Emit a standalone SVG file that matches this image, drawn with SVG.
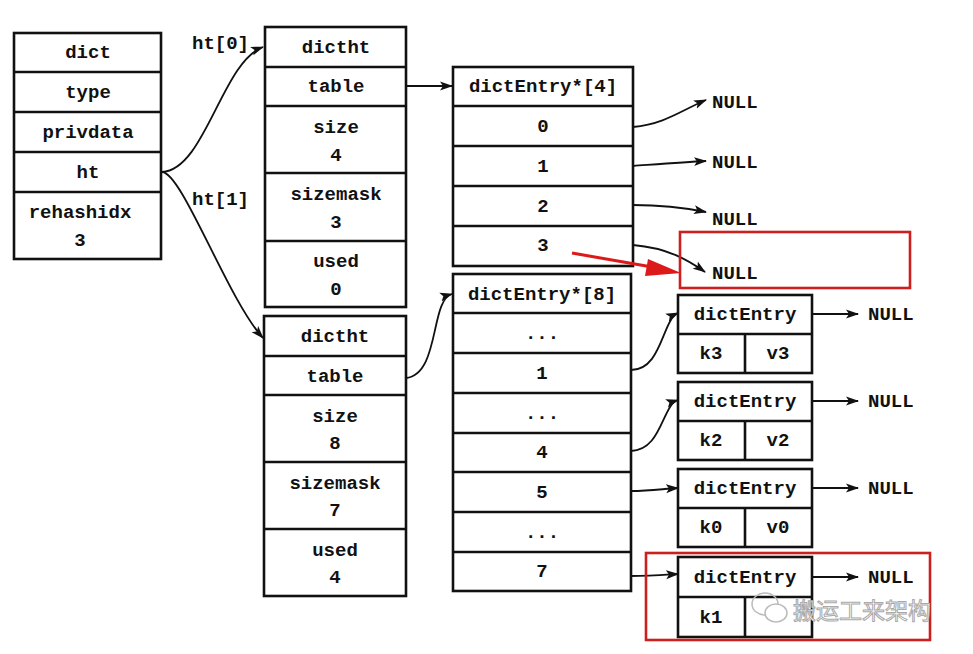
<svg xmlns="http://www.w3.org/2000/svg" width="973" height="654" viewBox="0 0 973 654">
<style>
.box{fill:#fff;stroke:#111;stroke-width:2.6}
.ln{stroke:#111;stroke-width:2.6;fill:none}
.t{font-family:"Liberation Mono","Courier New",monospace;font-weight:bold;font-size:19px;fill:#111;text-anchor:middle}
.tl{font-family:"Liberation Mono","Courier New",monospace;font-weight:bold;font-size:19px;fill:#111}
.c{fill:none;stroke:#111;stroke-width:1.8}
.red{fill:none;stroke:#cc2020;stroke-width:2.6}
.wm{font-family:"Noto Sans CJK SC",sans-serif;font-size:23px;fill:#fff;stroke:#aaa;stroke-width:1}
</style>
<defs>
<marker id="ar" markerUnits="userSpaceOnUse" markerWidth="14" markerHeight="10" refX="12" refY="5" orient="auto">
<path d="M0,0.5 L13,5 L0,9.5 L3,5 Z" fill="#111"/>
</marker>
</defs>
<rect width="973" height="654" fill="#fff"/>

<g id="dict">
<rect class="box" x="14" y="33" width="147" height="226"/>
<line class="ln" x1="14" y1="72" x2="161" y2="72"/>
<line class="ln" x1="14" y1="112" x2="161" y2="112"/>
<line class="ln" x1="14" y1="152" x2="161" y2="152"/>
<line class="ln" x1="14" y1="192" x2="161" y2="192"/>
<text class="t" x="88" y="58">dict</text>
<text class="t" x="88" y="98">type</text>
<text class="t" x="88" y="138">privdata</text>
<text class="t" x="88" y="178">ht</text>
<text class="t" x="80" y="218">rehashidx</text>
<text class="t" x="80" y="246">3</text>
</g>

<g id="dictht0">
<rect class="box" x="265" y="27" width="141" height="280"/>
<line class="ln" x1="265" y1="67" x2="406" y2="67"/>
<line class="ln" x1="265" y1="106" x2="406" y2="106"/>
<line class="ln" x1="265" y1="173" x2="406" y2="173"/>
<line class="ln" x1="265" y1="241" x2="406" y2="241"/>
<text class="t" x="336" y="53">dictht</text>
<text class="t" x="336" y="92">table</text>
<text class="t" x="336" y="133">size</text>
<text class="t" x="336" y="161">4</text>
<text class="t" x="336" y="200">sizemask</text>
<text class="t" x="336" y="228">3</text>
<text class="t" x="336" y="267">used</text>
<text class="t" x="336" y="295">0</text>
</g>

<g id="dictht1">
<rect class="box" x="264" y="316" width="142" height="280"/>
<line class="ln" x1="264" y1="356" x2="406" y2="356"/>
<line class="ln" x1="264" y1="395" x2="406" y2="395"/>
<line class="ln" x1="264" y1="462" x2="406" y2="462"/>
<line class="ln" x1="264" y1="529" x2="406" y2="529"/>
<text class="t" x="335" y="342">dictht</text>
<text class="t" x="335" y="382">table</text>
<text class="t" x="335" y="422">size</text>
<text class="t" x="335" y="449">8</text>
<text class="t" x="335" y="489">sizemask</text>
<text class="t" x="335" y="516">7</text>
<text class="t" x="335" y="556">used</text>
<text class="t" x="335" y="583">4</text>
</g>

<g id="table4">
<rect class="box" x="453" y="67" width="180" height="199"/>
<line class="ln" x1="453" y1="106" x2="633" y2="106"/>
<line class="ln" x1="453" y1="146" x2="633" y2="146"/>
<line class="ln" x1="453" y1="186" x2="633" y2="186"/>
<line class="ln" x1="453" y1="226" x2="633" y2="226"/>
<text class="t" x="543" y="92">dictEntry*[4]</text>
<text class="t" x="543" y="132">0</text>
<text class="t" x="543" y="172">1</text>
<text class="t" x="543" y="212">2</text>
<text class="t" x="543" y="251">3</text>
</g>

<g id="table8">
<rect class="box" x="453" y="274" width="178" height="317"/>
<line class="ln" x1="453" y1="313" x2="631" y2="313"/>
<line class="ln" x1="453" y1="353" x2="631" y2="353"/>
<line class="ln" x1="453" y1="393" x2="631" y2="393"/>
<line class="ln" x1="453" y1="433" x2="631" y2="433"/>
<line class="ln" x1="453" y1="472" x2="631" y2="472"/>
<line class="ln" x1="453" y1="512" x2="631" y2="512"/>
<line class="ln" x1="453" y1="552" x2="631" y2="552"/>
<text class="t" x="542" y="300">dictEntry*[8]</text>
<text class="t" x="542" y="339">...</text>
<text class="t" x="542" y="379">1</text>
<text class="t" x="542" y="419">...</text>
<text class="t" x="542" y="458">4</text>
<text class="t" x="542" y="498">5</text>
<text class="t" x="542" y="538">...</text>
<text class="t" x="542" y="577">7</text>
</g>

<g id="entry-k3">
<rect class="box" x="678" y="295" width="134" height="78"/>
<line class="ln" x1="678" y1="334" x2="812" y2="334"/>
<line class="ln" x1="745" y1="334" x2="745" y2="373"/>
<text class="t" x="745" y="320">dictEntry</text>
<text class="t" x="711" y="359">k3</text>
<text class="t" x="778" y="359">v3</text>
</g>
<g id="entry-k2">
<rect class="box" x="678" y="382" width="134" height="78"/>
<line class="ln" x1="678" y1="421" x2="812" y2="421"/>
<line class="ln" x1="745" y1="421" x2="745" y2="460"/>
<text class="t" x="745" y="407">dictEntry</text>
<text class="t" x="711" y="446">k2</text>
<text class="t" x="778" y="446">v2</text>
</g>
<g id="entry-k0">
<rect class="box" x="678" y="469" width="134" height="78"/>
<line class="ln" x1="678" y1="508" x2="812" y2="508"/>
<line class="ln" x1="745" y1="508" x2="745" y2="547"/>
<text class="t" x="745" y="494">dictEntry</text>
<text class="t" x="711" y="533">k0</text>
<text class="t" x="778" y="533">v0</text>
</g>
<g id="entry-k1">
<rect class="box" x="678" y="557" width="134" height="80"/>
<line class="ln" x1="678" y1="597" x2="812" y2="597"/>
<line class="ln" x1="745" y1="597" x2="745" y2="637"/>
<text class="t" x="745" y="583">dictEntry</text>
<text class="t" x="711" y="623">k1</text>
</g>

<g id="labels">
<text class="tl" x="192" y="49">ht[0]</text>
<text class="tl" x="192" y="205">ht[1]</text>
<text class="tl" x="712" y="108">NULL</text>
<text class="tl" x="712" y="168">NULL</text>
<text class="tl" x="712" y="225">NULL</text>
<text class="tl" x="712" y="279">NULL</text>
<text class="tl" x="868" y="320">NULL</text>
<text class="tl" x="868" y="407">NULL</text>
<text class="tl" x="868" y="494">NULL</text>
<text class="tl" x="868" y="583">NULL</text>
</g>

<g id="connectors">
<path class="c" marker-end="url(#ar)" d="M162,172 C205,170 222,62 263,47"/>
<path class="c" marker-end="url(#ar)" d="M162,172 C182,172 228,300 263,338"/>
<path class="c" marker-end="url(#ar)" d="M406,86 L452,86"/>
<path class="c" marker-end="url(#ar)" d="M406,378 C440,374 430,300 452,294"/>
<path class="c" marker-end="url(#ar)" d="M633,127 C665,124 682,110 706,100"/>
<path class="c" marker-end="url(#ar)" d="M633,166 C660,164 685,162 706,161"/>
<path class="c" marker-end="url(#ar)" d="M633,205 C665,205 686,208 706,212"/>
<path class="c" marker-end="url(#ar)" d="M633,245 C668,248 688,260 705,272"/>
<path class="c" marker-end="url(#ar)" d="M631,370 C662,370 662,320 678,313"/>
<path class="c" marker-end="url(#ar)" d="M631,451 C662,450 662,405 678,400"/>
<path class="c" marker-end="url(#ar)" d="M631,491 C650,491 662,489 678,488"/>
<path class="c" marker-end="url(#ar)" d="M631,576 C650,576 662,575 678,574"/>
<path class="c" marker-end="url(#ar)" d="M812,314 L858,314"/>
<path class="c" marker-end="url(#ar)" d="M812,401 L858,401"/>
<path class="c" marker-end="url(#ar)" d="M812,488 L858,488"/>
<path class="c" marker-end="url(#ar)" d="M812,577 L858,577"/>
</g>

<g id="highlights">
<rect class="red" x="680" y="232" width="230" height="56"/>
<rect class="red" x="646" y="553" width="284" height="87"/>
<line x1="572" y1="253" x2="652" y2="267" stroke="#dd1a1a" stroke-width="3"/>
<path d="M648,259 L681,273 L645,276 Z" fill="#dd1a1a"/>
</g>

<g id="watermark">
<ellipse cx="765" cy="604" rx="13" ry="11" fill="none" stroke="#bbb" stroke-width="1.5"/>
<ellipse cx="776" cy="613" rx="11" ry="9" fill="#fff" stroke="#bbb" stroke-width="1.5"/>
<text class="wm" x="793" y="619">搬运工来架构</text>
</g>
</svg>
